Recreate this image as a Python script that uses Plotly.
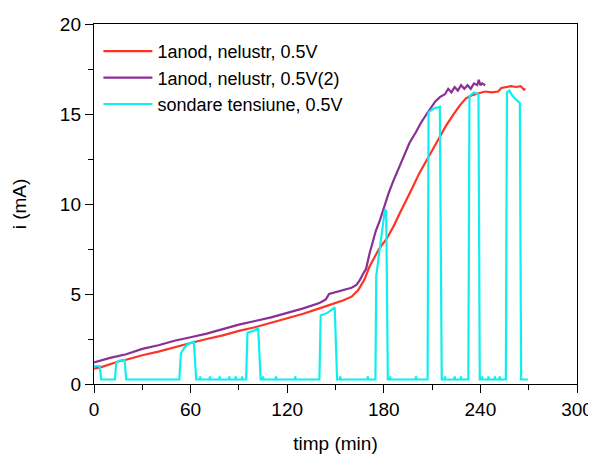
import plotly.graph_objects as go

# ---- data ----
red_t = [0, 5, 10, 15, 20, 30, 40, 50, 60, 70, 80, 90, 100, 110, 120, 130, 140, 150, 155, 160,
         164, 168, 171, 174, 177, 182, 186, 190, 194, 198, 202, 206.6, 210, 214.8, 219, 223, 227,
         231, 235, 239, 243, 247, 251, 253, 256, 259, 262, 265, 267, 268]
red_v = [0.85, 0.95, 1.1, 1.25, 1.35, 1.6, 1.8, 2.05, 2.28, 2.5, 2.7, 2.95, 3.15, 3.4, 3.65, 3.9,
         4.2, 4.5, 4.65, 4.85, 5.2, 5.8, 6.5, 7.0, 7.5, 8.1, 8.75, 9.5, 10.2, 10.95, 11.7, 12.44,
         13.0, 13.74, 14.4, 14.94, 15.45, 15.87, 16.05, 16.15, 16.25, 16.2, 16.25, 16.45, 16.5,
         16.55, 16.5, 16.55, 16.35, 16.4]

pur_t = [0, 10, 20, 30, 40, 50, 60, 70, 80, 90, 100, 110, 120, 130, 140, 144, 146, 150, 155, 160,
         163, 165, 167, 169, 171, 173, 175, 177.6, 180, 183, 186, 190, 193, 196, 200, 203, 206.6,
         210, 212, 215, 218, 220, 222, 224, 226, 228, 230, 232, 234, 236, 238, 239, 240, 241, 243]
pur_v = [1.2, 1.45, 1.65, 1.95, 2.15, 2.4, 2.6, 2.8, 3.05, 3.3, 3.5, 3.7, 3.95, 4.2, 4.5, 4.7, 5.0,
         5.1, 5.25, 5.35, 5.5, 5.75, 6.1, 6.4, 7.2, 7.9, 8.5, 9.1, 9.8, 10.6, 11.3, 12.1, 12.8, 13.4,
         14.0, 14.5, 15.0, 15.4, 15.7, 15.95, 16.1, 16.4, 16.2, 16.5, 16.3, 16.6, 16.4, 16.6, 16.4,
         16.7, 16.6, 16.9, 16.6, 16.7, 16.6]

cy_t = [0, 3.5, 4.5, 13, 13.8, 16, 19, 20, 53, 54, 56, 58, 62, 63.5,
        65.7, 66, 66.3, 71.7, 72, 72.3, 77.7, 78, 78.3, 83.7, 84, 84.3, 87.7, 88, 88.3, 91.7, 92, 92.3,
        94.5, 95.3, 99, 102, 103.5,
        104.7, 105, 105.3, 112.7, 113, 113.3, 124.7, 125, 125.3,
        140, 140.8, 145, 149.5, 151,
        152.7, 153, 153.3, 169.7, 170, 170.3,
        174.8, 175.3, 178, 180.7, 181.5, 182.5,
        183.7, 184, 184.3, 199.7, 200, 200.3,
        207.2, 207.8, 211, 214.8, 216,
        217.7, 218, 218.3, 223.7, 224, 224.3, 227.7, 228, 228.3,
        232.5, 233.2, 236, 238.8, 239.6,
        240.7, 241, 241.3, 244.7, 245, 245.3, 248.7, 249, 249.3, 251.7, 252, 252.3,
        255.8, 256.5, 258, 260, 263.5, 264.5, 265.3, 269.5]
cy_v = [1.0, 1.0, 0.25, 0.25, 1.2, 1.3, 1.35, 0.25, 0.25, 1.7, 2.0, 2.2, 2.35, 0.25,
        0.25, 0.42, 0.25, 0.25, 0.42, 0.25, 0.25, 0.42, 0.25, 0.25, 0.42, 0.25, 0.25, 0.42, 0.25, 0.25, 0.42, 0.25,
        0.25, 2.85, 2.95, 3.1, 0.25,
        0.25, 0.42, 0.25, 0.25, 0.42, 0.25, 0.25, 0.42, 0.25,
        0.25, 3.8, 3.95, 4.25, 0.25,
        0.25, 0.42, 0.25, 0.25, 0.42, 0.25,
        0.25, 6.0, 8.0, 9.7, 9.6, 0.25,
        0.25, 0.42, 0.25, 0.25, 0.42, 0.25,
        0.25, 15.1, 15.3, 15.4, 0.25,
        0.25, 0.42, 0.25, 0.25, 0.42, 0.25, 0.25, 0.42, 0.25,
        0.25, 16.0, 16.2, 16.1, 0.25,
        0.25, 0.42, 0.25, 0.25, 0.42, 0.25, 0.25, 0.42, 0.25, 0.25, 0.42, 0.25,
        0.25, 16.2, 16.3, 16.0, 15.7, 15.6, 0.25, 0.25]

names = ["1anod, nelustr, 0.5V", "1anod, nelustr, 0.5V(2)", "sondare tensiune, 0.5V"]
colors = ["#ff3322", "#8a2f96", "#11eeee"]

x_ticks = [0, 60, 120, 180, 240, 300]
y_ticks = [0, 5, 10, 15, 20]

FONT = "Liberation Sans, Arial, sans-serif"
FS = 18
TFS = 19

fig = go.Figure()
for t, v, n, c in [(red_t, red_v, names[0], colors[0]),
                   (pur_t, pur_v, names[1], colors[1]),
                   (cy_t, cy_v, names[2], colors[2])]:
    fig.add_trace(go.Scatter(x=t, y=v, mode="lines", name=n, legendgroup=n,
                             line=dict(color=c, width=2.2)))

axis_common = dict(showgrid=False, zeroline=False, showline=True, linecolor="black",
                   linewidth=1.4, mirror=True, ticks="outside", ticklen=8, tickwidth=1.3,
                   tickcolor="black", automargin=False,
                   tickfont=dict(family=FONT, size=TFS, color="black"))

fig.update_xaxes(range=[0, 300], tickvals=x_ticks, ticktext=[str(v) for v in x_ticks],
                 minor=dict(dtick=30, ticks="outside", ticklen=5, tickcolor="black", tickwidth=1.3),
                 title=dict(text="timp (min)", font=dict(family=FONT, size=TFS, color="black"), standoff=18),
                 **axis_common)
fig.update_yaxes(range=[0, 20], tickvals=y_ticks, ticktext=[str(v) for v in y_ticks],
                 minor=dict(dtick=2.5, ticks="outside", ticklen=5, tickcolor="black", tickwidth=1.3),
                 title=dict(text="i (mA)", font=dict(family=FONT, size=TFS, color="black"), standoff=28),
                 **axis_common)

# the page body has an 8px margin, so the figure is 8px smaller than the window
fig.update_layout(
    width=588, height=446,
    margin=dict(l=86, r=19, t=16, b=70, autoexpand=False),
    paper_bgcolor="white", plot_bgcolor="white",
    font=dict(family=FONT, size=FS, color="black"),
    legend=dict(x=0.0091, y=0.975, xanchor="left", yanchor="top",
                bgcolor="rgba(0,0,0,0)", borderwidth=0, itemwidth=49,
                tracegroupgap=0, font=dict(family=FONT, size=FS, color="black")),
)

fig.write_html("out.html")
